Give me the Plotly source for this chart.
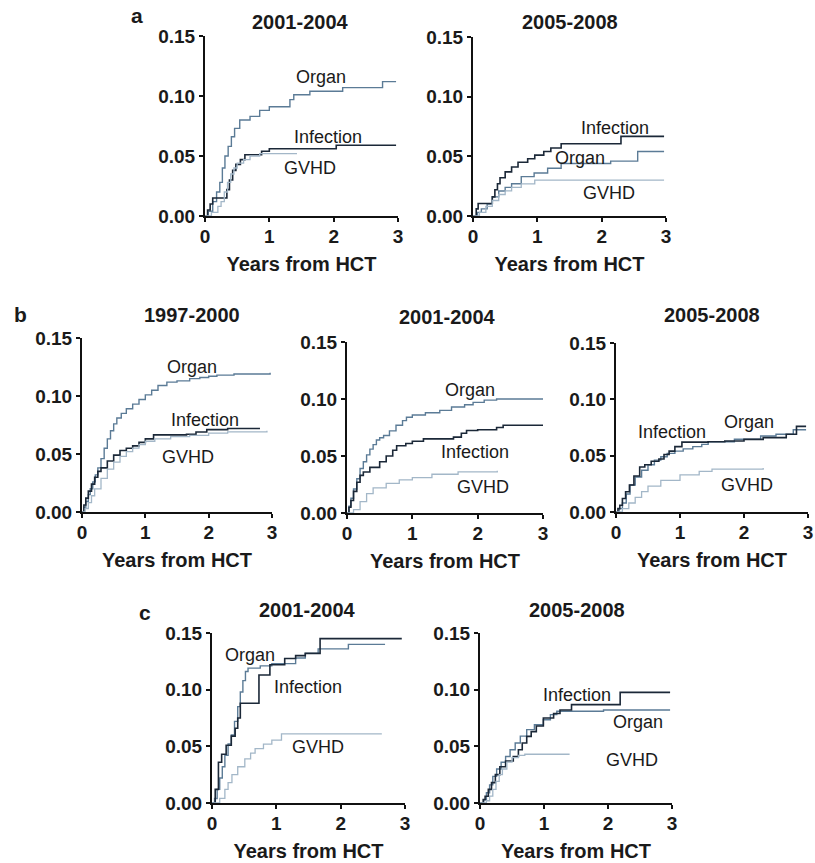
import plotly.graph_objects as go

# ---------------- data ----------------
# Panel a, 2001-2004
a1_organ_t = [0, 0.05, 0.12, 0.18, 0.23, 0.27, 0.31, 0.36, 0.41, 0.46, 0.54, 0.7, 0.85, 1.0, 1.32, 1.38, 1.63, 2.14, 2.76, 2.97]
a1_organ_y = [0, 0.004, 0.012, 0.02, 0.028, 0.04, 0.05, 0.058, 0.066, 0.073, 0.080, 0.083, 0.088, 0.091, 0.097, 0.101, 0.104, 0.107, 0.112, 0.112]
a1_inf_t = [0, 0.04, 0.08, 0.12, 0.34, 0.38, 0.43, 0.48, 0.55, 0.62, 0.88, 1.0, 2.04, 2.97]
a1_inf_y = [0, 0.005, 0.01, 0.015, 0.022, 0.03, 0.038, 0.043, 0.047, 0.051, 0.054, 0.056, 0.059, 0.059]
a1_gvhd_t = [0, 0.1, 0.2, 0.25, 0.3, 0.35, 0.4, 0.45, 0.5, 0.6, 0.7, 0.85, 1.43]
a1_gvhd_y = [0, 0.003, 0.008, 0.012, 0.02, 0.028, 0.035, 0.04, 0.044, 0.047, 0.05, 0.052, 0.052]

# Panel a, 2005-2008
a2_inf_t = [0, 0.05, 0.08, 0.23, 0.3, 0.34, 0.38, 0.42, 0.5, 0.6, 0.7, 0.85, 0.96, 1.1, 1.21, 1.37, 2.30, 2.97]
a2_inf_y = [0, 0.006, 0.0105, 0.0105, 0.016, 0.022, 0.027, 0.032, 0.037, 0.041, 0.045, 0.048, 0.051, 0.054, 0.057, 0.0605, 0.0667, 0.0667]
a2_organ_t = [0, 0.07, 0.13, 0.22, 0.3, 0.4, 0.5, 0.6, 0.75, 0.95, 1.16, 1.37, 2.14, 2.56, 2.97]
a2_organ_y = [0, 0.003, 0.006, 0.01, 0.016, 0.021, 0.024, 0.027, 0.033, 0.036, 0.04, 0.044, 0.046, 0.054, 0.054]
a2_gvhd_t = [0, 0.1, 0.2, 0.3, 0.4, 0.5, 0.6, 0.75, 0.96, 2.97]
a2_gvhd_y = [0, 0.003, 0.008, 0.013, 0.018, 0.021, 0.024, 0.027, 0.030, 0.030]

# Panel b, 1997-2000
b1_organ_t = [0, 0.03, 0.06, 0.1, 0.13, 0.17, 0.21, 0.25, 0.3, 0.35, 0.4, 0.45, 0.5, 0.55, 0.62, 0.7, 0.8, 0.9, 1.0, 1.1, 1.2, 1.34, 1.5, 1.7, 1.86, 2.0, 2.13, 2.4, 2.97]
b1_organ_y = [0, 0.004, 0.009, 0.015, 0.02, 0.026, 0.032, 0.038, 0.046, 0.055, 0.063, 0.07, 0.076, 0.081, 0.085, 0.089, 0.093, 0.097, 0.101, 0.105, 0.109, 0.112, 0.113, 0.115, 0.116, 0.117, 0.118, 0.119, 0.12]
b1_inf_t = [0, 0.03, 0.06, 0.1, 0.15, 0.2, 0.25, 0.3, 0.4, 0.5, 0.6, 0.7, 0.8, 0.9, 1.0, 1.13, 1.4, 1.65, 1.8, 1.97, 2.3, 2.81]
b1_inf_y = [0, 0.006, 0.012, 0.018, 0.024, 0.03, 0.035, 0.038, 0.044, 0.049, 0.053, 0.055, 0.057, 0.06, 0.063, 0.0665, 0.0665, 0.067, 0.069, 0.071, 0.072, 0.072]
b1_gvhd_t = [0, 0.05, 0.1, 0.15, 0.2, 0.3, 0.4, 0.5, 0.6, 0.7, 0.8, 0.9, 1.0, 1.15, 1.4, 1.7, 2.0, 2.3, 2.92]
b1_gvhd_y = [0, 0.003, 0.008, 0.014, 0.02, 0.029, 0.037, 0.043, 0.048, 0.052, 0.055, 0.058, 0.061, 0.063, 0.065, 0.066, 0.068, 0.069, 0.07]

# Panel b, 2001-2004
b2_organ_t = [0, 0.03, 0.06, 0.1, 0.15, 0.2, 0.25, 0.3, 0.35, 0.4, 0.45, 0.5, 0.56, 0.65, 0.75, 0.85, 0.91, 1.0, 1.2, 1.42, 1.6, 1.8, 1.93, 2.1, 2.29, 3.0]
b2_organ_y = [0, 0.006, 0.013, 0.021, 0.03, 0.039, 0.045, 0.051, 0.056, 0.06, 0.064, 0.066, 0.068, 0.072, 0.077, 0.081, 0.084, 0.086, 0.088, 0.09, 0.093, 0.095, 0.097, 0.099, 0.1, 0.1]
b2_inf_t = [0, 0.03, 0.06, 0.1, 0.15, 0.2, 0.25, 0.35, 0.5, 0.6, 0.7, 0.76, 0.9, 1.0, 1.17, 1.4, 1.63, 1.75, 1.83, 2.0, 2.29, 2.39, 3.0]
b2_inf_y = [0, 0.005, 0.011, 0.019, 0.027, 0.033, 0.036, 0.04, 0.045, 0.05, 0.055, 0.059, 0.061, 0.063, 0.065, 0.065, 0.0666, 0.07, 0.0724, 0.073, 0.075, 0.077, 0.077]
b2_gvhd_t = [0, 0.1, 0.2, 0.3, 0.4, 0.6, 0.8, 1.0, 1.3, 1.7, 2.3]
b2_gvhd_y = [0, 0.003, 0.01, 0.017, 0.022, 0.026, 0.029, 0.031, 0.034, 0.036, 0.037]

# Panel b, 2005-2008
b3_inf_t = [0, 0.03, 0.06, 0.1, 0.15, 0.21, 0.28, 0.37, 0.45, 0.55, 0.67, 0.75, 0.83, 0.92, 1.03, 1.44, 1.7, 2.0, 2.3, 2.66, 2.82, 2.97]
b3_inf_y = [0, 0.003, 0.006, 0.012, 0.018, 0.024, 0.032, 0.040, 0.042, 0.045, 0.047, 0.051, 0.054, 0.058, 0.062, 0.0623, 0.063, 0.0645, 0.066, 0.069, 0.076, 0.076]
b3_organ_t = [0, 0.05, 0.1, 0.16, 0.22, 0.3, 0.4, 0.5, 0.6, 0.7, 0.8, 0.92, 1.05, 1.2, 1.34, 1.44, 1.85, 2.26, 2.5, 2.77, 2.97]
b3_organ_y = [0, 0.003, 0.008, 0.016, 0.024, 0.031, 0.037, 0.042, 0.046, 0.049, 0.052, 0.054, 0.056, 0.058, 0.06, 0.0623, 0.0646, 0.0675, 0.069, 0.073, 0.073]
b3_gvhd_t = [0, 0.1, 0.2, 0.3, 0.4, 0.5, 0.7, 1.0, 1.3, 1.5, 2.3]
b3_gvhd_y = [0, 0.003, 0.008, 0.013, 0.018, 0.023, 0.028, 0.033, 0.036, 0.038, 0.039]

# Panel c, 2001-2004
c1_organ_t = [0, 0.04, 0.08, 0.12, 0.16, 0.2, 0.25, 0.3, 0.35, 0.4, 0.44, 0.48, 0.52, 0.56, 0.75, 0.93, 1.3, 1.45, 1.65, 2.12, 2.69]
c1_organ_y = [0, 0.004, 0.012, 0.022, 0.032, 0.042, 0.052, 0.06, 0.072, 0.085, 0.098, 0.108, 0.116, 0.119, 0.121, 0.123, 0.128, 0.132, 0.136, 0.140, 0.140]
c1_inf_t = [0, 0.05, 0.1, 0.15, 0.22, 0.3, 0.36, 0.4, 0.44, 0.69, 0.73, 0.86, 0.9, 1.13, 1.3, 1.45, 1.68, 2.95]
c1_inf_y = [0, 0.012, 0.036, 0.043, 0.051, 0.059, 0.066, 0.075, 0.088, 0.088, 0.113, 0.113, 0.122, 0.1275, 0.13, 0.132, 0.145, 0.145]
c1_gvhd_t = [0, 0.12, 0.2, 0.25, 0.31, 0.4, 0.51, 0.6, 0.67, 0.8, 0.93, 1.08, 2.64]
c1_gvhd_y = [0, 0.004, 0.012, 0.018, 0.025, 0.032, 0.039, 0.044, 0.048, 0.052, 0.0555, 0.061, 0.061]

# Panel c, 2005-2008
c2_inf_t = [0, 0.05, 0.08, 0.13, 0.18, 0.24, 0.31, 0.4, 0.52, 0.6, 0.66, 0.73, 0.8, 0.88, 0.99, 1.15, 1.25, 1.43, 2.19, 2.97]
c2_inf_y = [0, 0.003, 0.006, 0.012, 0.018, 0.025, 0.032, 0.037, 0.041, 0.047, 0.053, 0.0588, 0.063, 0.068, 0.075, 0.079, 0.082, 0.0868, 0.0976, 0.0976]
c2_organ_t = [0, 0.06, 0.1, 0.15, 0.2, 0.26, 0.33, 0.4, 0.47, 0.55, 0.63, 0.73, 0.85, 0.99, 1.1, 1.2, 1.93, 2.97]
c2_organ_y = [0, 0.003, 0.009, 0.016, 0.0235, 0.03, 0.036, 0.041, 0.047, 0.053, 0.059, 0.0647, 0.069, 0.0735, 0.078, 0.081, 0.082, 0.082]
c2_gvhd_t = [0, 0.1, 0.15, 0.2, 0.25, 0.3, 0.35, 0.42, 0.5, 0.6, 0.7, 1.4]
c2_gvhd_y = [0, 0.002, 0.006, 0.012, 0.019, 0.025, 0.03, 0.036, 0.04, 0.042, 0.043, 0.043]

x_ticks = [0, 1, 2, 3]
y_ticks = [0.00, 0.05, 0.10, 0.15]
x_title = "Years from HCT"

# ---------------- styling / layout ----------------
W, H = 815, 863
FONT = "Liberation Sans, Arial, sans-serif"
TXT = "#1a1a1a"
COL = {"Infection": "#1b2838", "Organ": "#5b7b96", "GVHD": "#a3b7c8"}
WID = {"Infection": 1.6, "Organ": 1.4, "GVHD": 1.3}

# pixel boxes: (x0, x1, ytop(0.15), ybottom(0.00))
panels = [
    dict(box=(205, 398, 36, 216), title="2001-2004", tpos=(300, 22),
         series=[("Organ", a1_organ_t, a1_organ_y), ("Infection", a1_inf_t, a1_inf_y), ("GVHD", a1_gvhd_t, a1_gvhd_y)],
         labels=[("Organ", 1.81, 0.116), ("Infection", 1.91, 0.066), ("GVHD", 1.63, 0.040)]),
    dict(box=(473, 666, 37, 216), title="2005-2008", tpos=(570, 22),
         series=[("Organ", a2_organ_t, a2_organ_y), ("Infection", a2_inf_t, a2_inf_y), ("GVHD", a2_gvhd_t, a2_gvhd_y)],
         labels=[("Infection", 2.20, 0.074), ("Organ", 1.67, 0.049), ("GVHD", 2.12, 0.0194)]),
    dict(box=(82, 272, 338, 512), title="1997-2000", tpos=(192, 315),
         series=[("Organ", b1_organ_t, b1_organ_y), ("Infection", b1_inf_t, b1_inf_y), ("GVHD", b1_gvhd_t, b1_gvhd_y)],
         labels=[("Organ", 1.74, 0.125), ("Infection", 1.94, 0.079), ("GVHD", 1.67, 0.047)]),
    dict(box=(347, 543, 342, 513), title="2001-2004", tpos=(447, 317),
         series=[("Organ", b2_organ_t, b2_organ_y), ("Infection", b2_inf_t, b2_inf_y), ("GVHD", b2_gvhd_t, b2_gvhd_y)],
         labels=[("Organ", 1.88, 0.108), ("Infection", 1.96, 0.0535), ("GVHD", 2.08, 0.0228)]),
    dict(box=(616, 808, 343, 512), title="2005-2008", tpos=(712, 315),
         series=[("Organ", b3_organ_t, b3_organ_y), ("Infection", b3_inf_t, b3_inf_y), ("GVHD", b3_gvhd_t, b3_gvhd_y)],
         labels=[("Infection", 0.87, 0.071), ("Organ", 2.08, 0.080), ("GVHD", 2.05, 0.024)]),
    dict(box=(212, 405, 633, 803), title="2001-2004", tpos=(307, 610),
         series=[("Organ", c1_organ_t, c1_organ_y), ("Infection", c1_inf_t, c1_inf_y), ("GVHD", c1_gvhd_t, c1_gvhd_y)],
         labels=[("Organ", 0.59, 0.131), ("Infection", 1.49, 0.102), ("GVHD", 1.65, 0.049)]),
    dict(box=(480, 672, 633, 803), title="2005-2008", tpos=(577, 610),
         series=[("Organ", c2_organ_t, c2_organ_y), ("Infection", c2_inf_t, c2_inf_y), ("GVHD", c2_gvhd_t, c2_gvhd_y)],
         labels=[("Infection", 1.52, 0.095), ("Organ", 2.47, 0.0715), ("GVHD", 2.38, 0.038)]),
]
letters = [("a", 137, 15), ("b", 20, 315), ("c", 145, 612)]

fig = go.Figure()
layout = dict(width=W, height=H, margin=dict(l=0, r=0, t=0, b=0),
              paper_bgcolor="white", plot_bgcolor="white", showlegend=False,
              template="none", font=dict(family=FONT, color=TXT))
annotations = []

for i, p in enumerate(panels):
    k = "" if i == 0 else str(i + 1)
    x0, x1, yt, yb = p["box"]
    layout["xaxis" + k] = dict(
        domain=[x0 / W, x1 / W], anchor="y" + k, range=[0, 3], tickvals=x_ticks,
        showline=True, linecolor="#111", linewidth=2, ticks="outside", ticklen=4,
        tickwidth=1.5, tickcolor="#111", showgrid=False, zeroline=False,
        tickfont=dict(family=FONT, size=19, color=TXT, weight="bold"),
        ticklabelstandoff=-2,
        title=dict(text="<b>" + x_title + "</b>", font=dict(family=FONT, size=20, color=TXT), standoff=11),
        automargin=False, fixedrange=True)
    layout["yaxis" + k] = dict(
        domain=[1 - yb / H, 1 - yt / H], anchor="x" + k, range=[0, 0.15], tickvals=y_ticks,
        tickformat=".2f", showline=True, linecolor="#111", linewidth=2, ticks="outside",
        ticklen=4, tickwidth=1.5, tickcolor="#111", showgrid=False, zeroline=False,
        tickfont=dict(family=FONT, size=19, color=TXT, weight="bold"),
        automargin=False, fixedrange=True)
    for name, t, y in p["series"]:
        fig.add_trace(go.Scatter(x=t, y=y, mode="lines", line_shape="hv",
                                 line=dict(color=COL[name], width=WID[name]),
                                 xaxis="x" + k, yaxis="y" + k, name=name, hoverinfo="skip"))
    for name, lx, ly in p["labels"]:
        annotations.append(dict(text=name, x=lx, y=ly, xref="x" + k, yref="y" + k,
                                xanchor="center", yanchor="middle",
                                showarrow=False, font=dict(family=FONT, size=18, color=TXT)))
    annotations.append(dict(text="<b>" + p["title"] + "</b>", x=p["tpos"][0] / W, y=1 - p["tpos"][1] / H,
                            xref="paper", yref="paper", xanchor="center", yanchor="middle",
                            showarrow=False, font=dict(family=FONT, size=20, color=TXT)))

for letter, lx, ly in letters:
    annotations.append(dict(text="<b>" + letter + "</b>", x=lx / W, y=1 - ly / H,
                            xref="paper", yref="paper", xanchor="center", yanchor="middle",
                            showarrow=False, font=dict(family=FONT, size=21, color=TXT)))

layout["annotations"] = annotations
fig.update_layout(**layout)
fig.write_html("out.html")
